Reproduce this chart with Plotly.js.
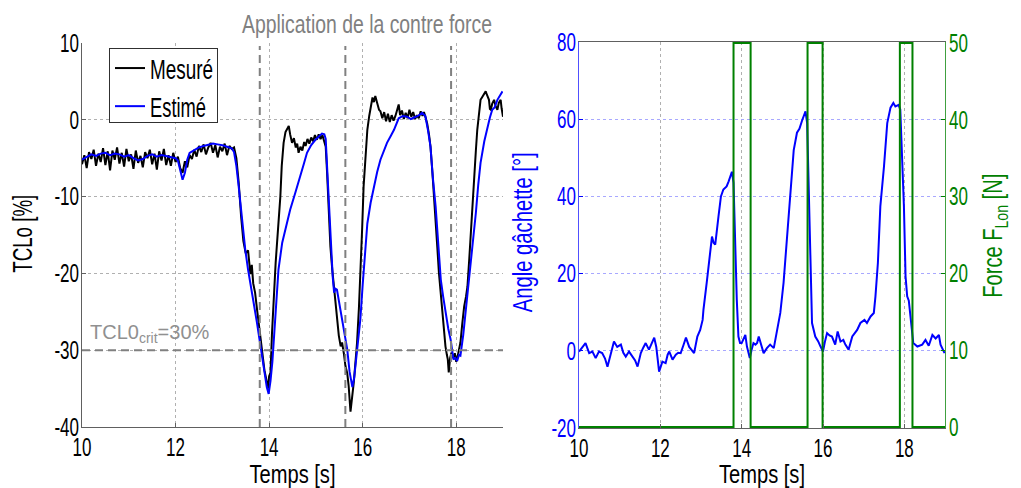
<!DOCTYPE html>
<html>
<head>
<meta charset="utf-8">
<script src="https://cdn.plot.ly/plotly-3.0.1.min.js"></script>
<style>
html,body{margin:0;padding:0;background:#fff;}
#chart{width:1021px;height:488px;}
</style>
</head>
<body>
<div id="chart"></div>
<script>
// ---------- Data ----------
const mesureT = [10.00,10.05,10.10,10.15,10.20,10.25,10.30,10.35,10.40,10.45,10.50,10.55,10.60,10.65,10.70,10.75,10.80,10.85,10.90,10.95,
11.00,11.05,11.10,11.15,11.20,11.25,11.30,11.35,11.40,11.45,11.50,11.55,11.60,11.65,11.70,11.75,11.80,11.85,11.90,11.95,
12.00,12.05,12.10,12.15,12.20,12.25,12.30,12.35,12.40,12.45,12.50,12.55,12.60,12.65,12.70,12.75,12.80,12.85,12.90,12.95,
13.00,13.05,13.10,13.15,13.20,13.25,13.30,13.35,13.40,13.45,13.50,13.55,13.60,13.63,13.66,13.70,13.75,13.80,13.85,13.90,
13.95,13.98,14.00,14.03,14.06,14.10,14.14,14.17,14.20,14.24,14.27,14.31,14.35,14.39,14.42,14.45,14.49,14.53,14.57,14.60,
14.63,14.67,14.71,14.75,14.78,14.82,14.86,14.90,14.94,14.98,15.02,15.06,15.10,15.14,15.18,15.21,15.24,15.27,15.31,15.35,
15.39,15.42,15.46,15.49,15.53,15.56,15.60,15.63,15.67,15.70,15.74,15.77,15.81,15.84,15.88,15.92,15.95,15.99,16.02,16.06,
16.10,16.14,16.17,16.21,16.24,16.27,16.31,16.35,16.38,16.42,16.46,16.50,16.54,16.58,16.62,16.66,16.70,16.74,16.77,16.80,
16.84,16.88,16.92,16.96,17.00,17.04,17.08,17.12,17.16,17.20,17.24,17.28,17.31,17.35,17.38,17.42,17.45,17.49,17.52,17.56,
17.60,17.63,17.67,17.70,17.74,17.77,17.80,17.82,17.84,17.87,17.90,17.93,17.97,18.00,18.03,18.06,18.09,18.13,18.17,18.21,
18.24,18.28,18.31,18.35,18.38,18.42,18.45,18.49,18.52,18.56,18.60,18.63,18.66,18.70,18.72,18.74,18.77,18.81,18.84,18.88,
18.91,18.95,18.97,19.00];
const mesureV = [-5.8,-4.6,-6.3,-4.2,-5.1,-3.9,-6.0,-4.4,-5.5,-3.7,-5.9,-4.1,-6.6,-4.0,-5.2,-3.6,-5.7,-4.3,-6.1,-3.8,
-5.4,-4.5,-6.4,-4.0,-5.6,-4.7,-6.2,-4.2,-5.0,-3.9,-5.8,-4.4,-6.5,-4.1,-5.3,-3.8,-5.9,-4.6,-6.0,-4.3,
-5.5,-4.8,-6.3,-6.9,-5.4,-6.2,-4.6,-5.1,-3.9,-4.8,-3.4,-4.2,-3.2,-4.5,-3.6,-3.0,-4.3,-3.3,-4.9,-3.5,
-4.1,-3.1,-4.6,-3.4,-3.8,-3.6,-5.0,-8.2,-12.5,-15.8,-17.4,-17.0,-20.1,-18.9,-21.3,-22.5,-25.1,-28.0,-30.1,-32.6,
-34.2,-35.0,-33.4,-32.9,-28.0,-22.5,-18.6,-16.0,-13.5,-10.0,-6.0,-3.0,-1.6,-1.0,-0.8,-1.9,-3.0,-2.4,-3.6,-3.1,
-4.3,-3.5,-4.0,-2.9,-3.4,-2.5,-3.1,-2.3,-2.8,-2.0,-2.6,-1.9,-2.5,-2.0,-2.8,-3.5,-7.0,-11.7,-16.5,-19.5,
-22.0,-24.7,-27.0,-28.1,-29.5,-29.0,-30.5,-32.0,-33.0,-34.6,-38.0,-36.5,-34.2,-32.0,-29.0,-24.5,-20.4,-14.0,-8.7,-4.5,
-1.3,0.5,1.8,2.9,2.3,3.1,2.2,1.3,1.1,0.2,1.0,-0.2,0.8,-0.3,0.6,-0.1,0.5,1.4,2.0,0.6,
1.2,0.1,0.9,0.2,1.3,0.4,1.0,0.1,0.6,0.2,1.1,0.5,1.0,0.2,-0.5,-2.0,-3.5,-6.8,-10.0,-13.5,
-17.0,-19.9,-22.8,-25.0,-27.5,-29.5,-30.6,-31.2,-32.9,-31.0,-30.3,-31.0,-30.4,-31.5,-30.8,-30.0,-29.0,-26.5,-24.3,-23.0,
-21.7,-18.0,-14.7,-11.0,-7.8,-4.0,-1.3,1.0,2.6,3.0,3.4,3.7,3.2,2.6,1.4,1.3,2.1,2.6,1.8,1.3,
2.2,2.6,1.5,0.4];

const estimeT = [10.00,10.10,10.20,10.30,10.40,10.50,10.60,10.70,10.80,10.90,11.00,11.10,11.20,11.30,11.40,11.50,11.60,11.70,11.80,11.90,
12.00,12.05,12.10,12.15,12.20,12.25,12.30,12.40,12.50,12.60,12.70,12.80,12.90,13.00,13.10,13.20,13.25,13.30,13.35,13.40,
13.45,13.49,13.55,13.60,13.67,13.74,13.80,13.85,13.90,13.95,13.99,14.03,14.07,14.10,14.15,14.20,14.28,14.36,14.45,14.56,
14.67,14.74,14.81,14.90,14.99,15.07,15.13,15.18,15.21,15.25,15.29,15.32,15.36,15.39,15.42,15.45,15.49,15.52,15.57,15.62,
15.67,15.72,15.78,15.82,15.85,15.90,15.95,16.00,16.06,16.10,16.17,16.24,16.31,16.38,16.45,16.52,16.60,16.67,16.77,16.86,
16.95,17.03,17.10,17.18,17.27,17.34,17.40,17.45,17.50,17.56,17.62,17.67,17.72,17.77,17.83,17.88,17.94,17.98,18.02,18.06,
18.09,18.15,18.20,18.26,18.31,18.37,18.42,18.47,18.52,18.60,18.67,18.72,18.77,18.82,18.88,18.94,18.99];
const estimeV = [-5.2,-4.8,-4.5,-4.7,-4.4,-4.3,-4.6,-4.4,-4.5,-4.8,-4.6,-5.0,-5.3,-5.1,-4.7,-4.5,-4.8,-4.6,-4.7,-4.9,
-5.0,-5.3,-6.4,-7.8,-6.9,-5.2,-4.3,-3.9,-3.6,-3.4,-3.3,-3.1,-3.2,-3.3,-3.5,-3.7,-4.2,-6.0,-8.7,-12.0,
-14.8,-16.9,-19.5,-21.2,-23.8,-26.4,-28.8,-30.7,-33.0,-34.8,-35.7,-34.0,-31.5,-29.0,-24.0,-19.5,-16.0,-13.8,-11.7,-9.5,
-7.4,-5.8,-4.3,-3.3,-2.6,-2.1,-1.8,-1.9,-2.5,-7.4,-12.5,-16.0,-20.5,-22.5,-22.0,-22.1,-23.5,-24.7,-26.5,-28.3,
-29.9,-32.8,-34.8,-33.5,-31.6,-29.0,-26.0,-21.5,-17.0,-13.5,-10.8,-8.7,-6.8,-5.2,-4.0,-3.0,-2.1,-1.3,0.2,0.5,
0.4,0.1,0.3,0.5,0.9,0.5,-1.5,-3.5,-7.5,-11.3,-16.5,-20.8,-23.0,-25.0,-27.2,-28.6,-31.2,-31.0,-31.4,-30.6,
-30.7,-28.0,-25.0,-22.0,-19.0,-15.5,-12.1,-8.5,-5.6,-2.8,-0.9,0.3,1.3,1.6,2.6,3.2,3.7];

const angleT = [10.00,10.08,10.16,10.25,10.33,10.41,10.49,10.57,10.64,10.70,10.78,10.86,10.94,11.03,11.09,11.15,11.23,11.31,11.38,11.44,
11.52,11.58,11.64,11.72,11.80,11.85,11.90,11.97,12.05,12.13,12.18,12.22,12.30,12.38,12.44,12.50,12.57,12.63,12.71,12.77,
12.83,12.91,12.98,13.04,13.06,13.14,13.23,13.27,13.31,13.35,13.43,13.49,13.55,13.63,13.68,13.72,13.76,13.80,13.84,13.88,
13.92,13.96,14.00,14.05,14.09,14.13,14.20,14.25,14.29,14.34,14.38,14.42,14.48,14.54,14.62,14.70,14.79,14.87,14.95,15.03,
15.12,15.20,15.28,15.36,15.42,15.49,15.57,15.61,15.65,15.69,15.73,15.81,15.88,15.94,16.00,16.05,16.10,16.16,16.22,16.30,
16.36,16.43,16.50,16.55,16.63,16.72,16.84,16.92,17.02,17.08,17.17,17.25,17.29,17.35,17.41,17.50,17.58,17.66,17.73,17.78,
17.86,17.90,17.95,17.99,18.03,18.07,18.11,18.15,18.22,18.32,18.44,18.52,18.60,18.69,18.77,18.85,18.89,18.99];
const angleV = [-0.2,0.8,2.0,-0.6,-0.2,-1.9,-0.2,-0.6,-2.0,-4.1,-1.0,2.4,1.0,1.6,-0.5,-1.5,-0.2,-1.5,-2.5,-4.1,
-0.6,0.8,2.0,0.3,2.2,3.4,1.0,-5.4,-2.8,-3.2,-1.0,-0.2,-2.3,-1.0,-0.5,-0.6,1.5,3.4,1.0,0.2,
-0.6,3.7,5.4,8.0,10.6,17.6,26.2,29.6,28.0,27.5,34.8,40.0,41.8,42.6,43.9,45.0,46.4,43.5,26.2,13.2,
3.7,2.0,2.0,3.0,4.1,1.1,-1.9,0.5,2.0,1.6,2.0,3.7,1.5,-0.6,0.7,1.6,0.7,5.4,9.8,17.6,
29.6,41.8,52.0,56.5,57.5,59.8,62.0,59.0,41.8,24.4,7.2,3.7,2.5,1.1,-0.2,2.5,4.6,4.0,3.7,1.6,
5.0,2.4,2.8,1.6,0.3,3.7,5.4,7.2,8.0,7.2,8.9,9.8,14.1,22.8,37.4,47.8,59.0,63.0,64.2,63.3,
63.7,62.5,50.3,37.4,19.3,14.1,13.0,8.9,2.0,1.1,1.6,2.8,1.3,4.1,3.2,4.1,1.6,-0.6];

const forceT = [10.00,13.80,13.80,14.22,14.22,15.62,15.62,15.99,15.99,17.89,17.89,18.20,18.20,19.00];
const forceN = [0,0,50,50,0,0,50,50,0,0,50,50,0,0];

const eventTimes = [13.80, 15.63, 17.89];   // "Application de la contre force"
const critLevel = -30;                        // TCL0crit
const xTicks = [10, 12, 14, 16, 18];
const xTickLabels = ['10', '12', '14', '16', '18'];
const yLeftTicks = [-40, -30, -20, -10, 0, 10];
const yLeftLabels = ['-40', '-30', '-20', '-10', '0', '10'];
const yAngleTicks = [-20, 0, 20, 40, 60, 80];
const yAngleLabels = ['-20', '0', '20', '40', '60', '80'];
const yForceTicks = [0, 10, 20, 30, 40, 50];
const yForceLabels = ['0', '10', '20', '30', '40', '50'];

// ---------- Styling ----------
const FONT = '"Liberation Sans", Arial, sans-serif';
const BLUE = '#0000ff';
const GREEN = '#008000';
const W = 1021, H = 488;
const px = v => v / W, py = v => 1 - v / H;

const traces = [
  {x: mesureT, y: mesureV, type: 'scatter', mode: 'lines', name: 'Mesuré',
   line: {color: '#000000', width: 2}, xaxis: 'x', yaxis: 'y'},
  {x: estimeT, y: estimeV, type: 'scatter', mode: 'lines', name: 'Estimé',
   line: {color: BLUE, width: 2}, xaxis: 'x', yaxis: 'y'},
  {x: angleT, y: angleV, type: 'scatter', mode: 'lines', name: 'Angle gâchette',
   line: {color: BLUE, width: 2}, xaxis: 'x2', yaxis: 'y2', showlegend: false},
  {x: forceT, y: forceN, type: 'scatter', mode: 'lines', name: 'Force',
   line: {color: GREEN, width: 2}, xaxis: 'x2', yaxis: 'y3', showlegend: false}
];

const tickFont = {family: FONT, size: 25, color: '#000'};
const commonX = {
  range: [10, 19], tickvals: xTicks, ticktext: xTickLabels, tickfont: tickFont,
  showgrid: true, gridcolor: '#b0b0b0', griddash: 'dot', gridwidth: 1,
  zeroline: false, showline: true, linecolor: '#606060', linewidth: 1,
  ticks: 'inside', ticklen: 4, tickcolor: '#606060', automargin: false,
  ticklabelstandoff: -2,
  title: {text: 'Temps [s]', font: {family: FONT, size: 25, color: '#000'}, standoff: 7}
};

const shapes = eventTimes.map(t => ({
  type: 'line', xref: 'x', yref: 'y', x0: t, x1: t, y0: -40, y1: 9.6,
  line: {color: '#808080', width: 2, dash: '8px,5px'}
}));
shapes.push({type: 'line', xref: 'x', yref: 'y', x0: 10, x1: 19, y0: critLevel, y1: critLevel,
  line: {color: '#808080', width: 2, dash: '8px,5px'}});

const yTitleFont = c => ({family: FONT, size: 27, color: c});

const layout = {
  width: W, height: H,
  margin: {l: 0, r: 0, t: 0, b: 0},
  paper_bgcolor: '#ffffff', plot_bgcolor: '#ffffff',
  showlegend: true,
  title: {text: 'Application de la contre force', x: px(367), xanchor: 'center',
          y: py(24), yanchor: 'middle', font: {family: FONT, size: 25, color: '#808080'}},
  legend: {x: px(109), y: py(43), xanchor: 'left', yanchor: 'top',
           bgcolor: '#ffffff', bordercolor: '#303030', borderwidth: 1,
           font: {family: FONT, size: 27, color: '#000'}},
  xaxis: Object.assign({}, commonX, {domain: [px(82), px(503)], anchor: 'y'}),
  yaxis: {domain: [py(427), py(43)], range: [-40, 10], tickvals: yLeftTicks, ticktext: yLeftLabels,
          anchor: 'x', tickfont: tickFont, showgrid: true, gridcolor: '#b0b0b0', griddash: 'dot',
          zeroline: false, showline: true, linecolor: '#606060', ticks: 'inside', ticklen: 4,
          tickcolor: '#606060', automargin: false, ticklabelstandoff: -3},
  xaxis2: Object.assign({}, commonX, {domain: [px(579), px(945)], anchor: 'y2', mirror: true}),
  yaxis2: {domain: [py(428), py(42)], range: [-20, 80], tickvals: yAngleTicks, ticktext: yAngleLabels,
           anchor: 'x2', tickfont: Object.assign({}, tickFont, {color: BLUE}), showgrid: true,
           gridcolor: '#a8a8ff', griddash: 'dot', zeroline: false, showline: true,
           linecolor: '#5050ff', ticks: 'inside', ticklen: 4, tickcolor: BLUE, automargin: false,
           ticklabelstandoff: -3},
  yaxis3: {overlaying: 'y2', side: 'right', anchor: 'x2', range: [-0.13, 50.13], tickvals: yForceTicks,
           ticktext: yForceLabels, tickfont: Object.assign({}, tickFont, {color: GREEN}), showgrid: false,
           zeroline: false, showline: true, linecolor: '#40a040', ticks: 'inside', ticklen: 4,
           tickcolor: GREEN, automargin: false, ticklabelstandoff: -2},
  shapes: shapes,
  annotations: [
    {xref: 'paper', yref: 'paper', x: px(23), y: py(234), textangle: -90, showarrow: false,
     xanchor: 'center', yanchor: 'middle', text: 'TCLo [%]', font: yTitleFont('#000')},
    {xref: 'paper', yref: 'paper', x: px(523), y: py(233), textangle: -90, showarrow: false,
     xanchor: 'center', yanchor: 'middle', text: 'Angle gâchette [°]', font: yTitleFont(BLUE)},
    {xref: 'paper', yref: 'paper', x: px(995), y: py(236), textangle: -90, showarrow: false,
     xanchor: 'center', yanchor: 'middle', text: 'Force F<sub>Lon</sub> [N]', font: yTitleFont(GREEN)},
    {xref: 'x', yref: 'y', x: 10.12, y: critLevel, xanchor: 'left', yanchor: 'bottom', yshift: 2,
     text: 'TCL0<sub>crit</sub>=30%', showarrow: false,
     font: {family: FONT, size: 20, color: '#909090'}}
  ]
};

// The reference uses a tall condensed typeface; no condensed font is installed,
// so the rendered glyphs are squeezed horizontally to the reference text widths.
const textWidths = {
  'Application de la contre force': 250,
  'Temps [s]': 86,
  'Mesuré': 63,
  'Estimé': 56,
  'TCLo [%]': 78,
  'Angle gâchette [°]': 160,
  'Force FLon [N]': 124
};
const tickSqueeze = 0.68;

function squeezeTexts(gd) {
  gd.querySelectorAll('svg text').forEach(t => {
    const s = (t.textContent || '').replace(/[\u200b\u00a0]/g, ' ').replace(/\s+/g, ' ').trim()
      .replace('F Lon', 'FLon');
    if (!s || s.indexOf('TCL0') === 0) return;
    const len = t.getComputedTextLength();
    if (!len) return;
    let target = textWidths[s];
    if (target === undefined && s.indexOf('Force') === 0) target = textWidths['Force FLon [N]'];
    if (target === undefined) {
      if (t.closest('.xtick, .ytick, .y3tick, .x2tick, .y2tick')) target = len * tickSqueeze;
      else return;
    }
    t.setAttribute('textLength', target.toFixed(1));
    t.setAttribute('lengthAdjust', 'spacingAndGlyphs');
  });
  const bg = gd.querySelector('.legend rect.bg');
  if (bg) {
    const y0 = parseFloat(bg.getAttribute('y') || '0');
    bg.setAttribute('width', 108);
    bg.setAttribute('y', y0 + 5);
    bg.setAttribute('height', 74);
  }
}

Plotly.newPlot('chart', traces, layout, {displayModeBar: false, responsive: false})
  .then(gd => squeezeTexts(gd));
</script>
</body>
</html>
